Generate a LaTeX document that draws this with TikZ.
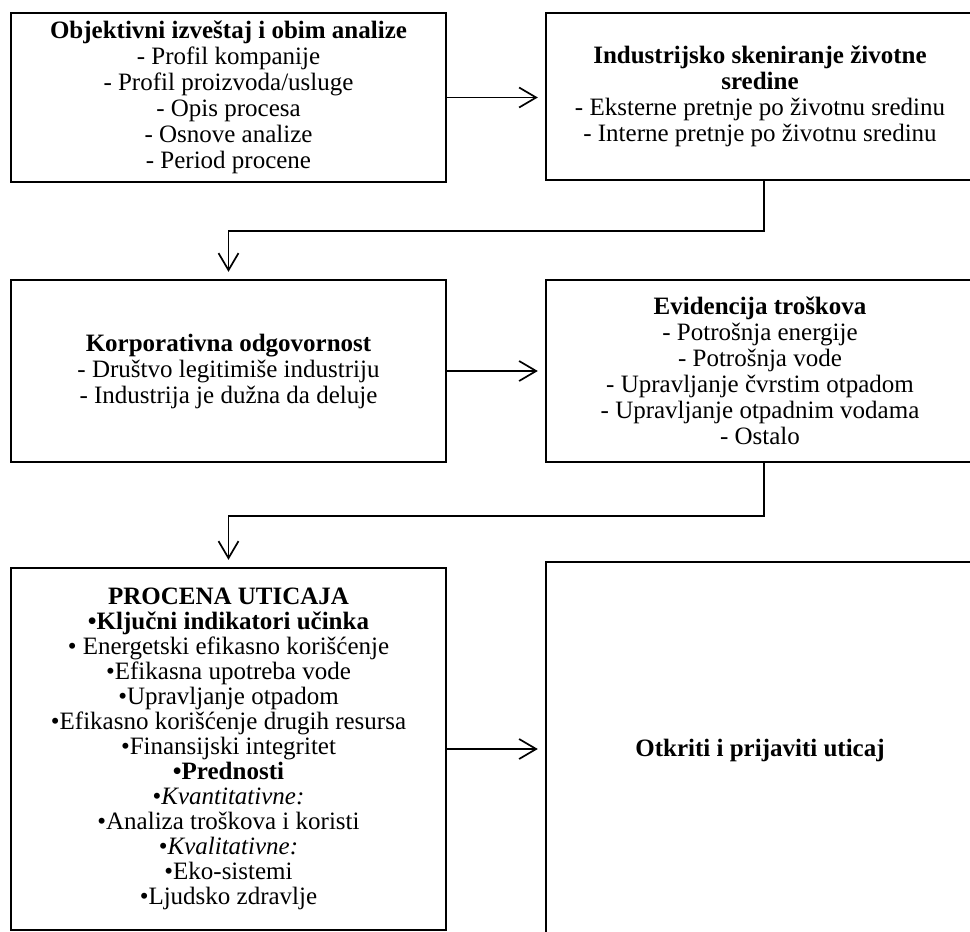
\documentclass[tikz,border=0pt]{standalone}
\usepackage{fontspec}
\setmainfont{Liberation Serif}
\usetikzlibrary{arrows.meta}

\begin{document}
\begin{tikzpicture}[
  x=1pt,
  y=-1pt,
  stage/.style={draw, line width=2.4pt, minimum width=435pt, minimum height=169pt, inner sep=0pt, align=center, font=\fontsize{25}{26}\selectfont},
  wide/.style={stage, minimum width=428pt},
  flow/.style={line width=1.7pt, -{Straight Barb[length=17pt,width=20pt]}, shorten >=7pt}
]
  \clip (0,0) rectangle (970,932);

  \node[stage] (obj) at (228.5, 97.5) {\textbf{Objektivni izveštaj i obim analize}\\- Profil kompanije\\- Profil proizvoda/usluge\\- Opis procesa\\- Osnove analize\\- Period procene};
  \node[wide, minimum height=167pt] (scan) at (760, 96.5) {\textbf{Industrijsko skeniranje životne}\\\textbf{sredine}\\- Eksterne pretnje po životnu sredinu\\- Interne pretnje po životnu sredinu};

  \node[stage, minimum height=182pt] (corp) at (228.5, 371) {\textbf{Korporativna odgovornost}\\- Društvo legitimiše industriju\\- Industrija je dužna da deluje};
  \node[wide, minimum height=182pt] (cost) at (760, 371) {\textbf{Evidencija troškova}\\- Potrošnja energije\\- Potrošnja vode\\- Upravljanje čvrstim otpadom\\- Upravljanje otpadnim vodama\\- Ostalo};

  \node[stage, minimum height=362pt, font=\fontsize{25}{25}\selectfont] (impact) at (228.5, 749) {\textbf{PROCENA UTICAJA}\\\textbf{•Ključni indikatori učinka}\\• Energetski efikasno korišćenje\\•Efikasna upotreba vode\\•Upravljanje otpadom\\•Efikasno korišćenje drugih resursa\\•Finansijski integritet\\\textbf{•Prednosti}\\•\textit{Kvantitativne:}\\•Analiza troškova i koristi\\•\textit{Kvalitativne:}\\•Eko-sistemi\\•Ljudsko zdravlje};
  \node[wide, minimum height=376pt] (report) at (760, 750) {\textbf{Otkriti i prijaviti uticaj}};

  \draw[flow] (obj.east) -- (obj.east -| scan.west);
  \draw[flow] ([xshift=4pt]scan.south) -- ++(0,50) -| (corp.north);
  \draw[flow] (corp.east) -- (corp.east -| cost.west);
  \draw[flow] ([xshift=4pt]cost.south) -- ++(0,53) -| (impact.north);
  \draw[flow] (impact.east) -- (impact.east -| report.west);
\end{tikzpicture}
\end{document}
